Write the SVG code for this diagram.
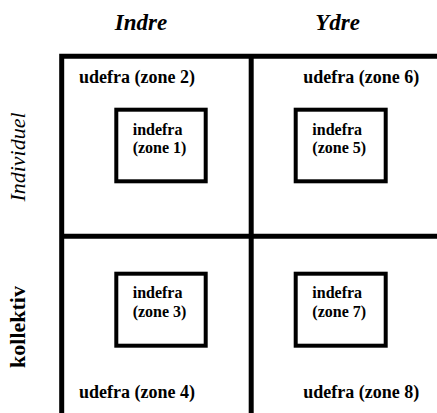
<svg xmlns="http://www.w3.org/2000/svg" width="437" height="413" viewBox="0 0 437 413" font-family="Liberation Serif, Times New Roman, serif">
  <style>
    .grid { stroke: #000; stroke-width: 5; fill: none; }
    .box { stroke: #000; stroke-width: 4; fill: #fff; }
    .head { font-size: 23px; font-weight: bold; font-style: italic; text-anchor: middle; fill: #000; }
    .side { font-size: 22px; text-anchor: middle; fill: #000; }
    .outer { font-size: 18px; font-weight: bold; fill: #000; }
    .inner { font-size: 16px; font-weight: bold; fill: #000; }
  </style>
  <rect width="437" height="413" fill="#fff"/>

  <!-- column and row headings -->
  <text class="head" x="141" y="30">Indre</text>
  <text class="head" x="337.5" y="30">Ydre</text>
  <text class="side" font-style="italic" transform="translate(25,157) rotate(-90)">Individuel</text>
  <text class="side" font-weight="bold" transform="translate(25,327) rotate(-90)">kollektiv</text>

  <!-- quadrant grid -->
  <g id="grid">
    <path class="grid" d="M61.7,413 V56.2 H437"/>
    <path class="grid" d="M251.2,56.2 V413"/>
    <path class="grid" d="M61.7,236.2 H437"/>
  </g>

  <g id="zone2"><text class="outer" x="79" y="83.3">udefra (zone 2)</text></g>
  <g id="zone6"><text class="outer" x="303.3" y="83.3">udefra (zone 6)</text></g>
  <g id="zone4"><text class="outer" x="79" y="398.3">udefra (zone 4)</text></g>
  <g id="zone8"><text class="outer" x="303.3" y="398.3">udefra (zone 8)</text></g>

  <g id="zone1">
    <rect class="box" x="116.3" y="109.7" width="89.4" height="71.6"/>
    <text class="inner" x="132.7" y="135">indefra</text>
    <text class="inner" x="132.7" y="153.3">(zone 1)</text>
  </g>
  <g id="zone5">
    <rect class="box" x="295.7" y="109.7" width="90" height="71.6"/>
    <text class="inner" x="312.3" y="135">indefra</text>
    <text class="inner" x="312.3" y="153.3">(zone 5)</text>
  </g>
  <g id="zone3">
    <rect class="box" x="116.3" y="273.7" width="89.4" height="72"/>
    <text class="inner" x="132.7" y="298.3">indefra</text>
    <text class="inner" x="132.7" y="316.7">(zone 3)</text>
  </g>
  <g id="zone7">
    <rect class="box" x="295.7" y="273.7" width="90" height="72"/>
    <text class="inner" x="312.3" y="298.3">indefra</text>
    <text class="inner" x="312.3" y="316.7">(zone 7)</text>
  </g>
</svg>
